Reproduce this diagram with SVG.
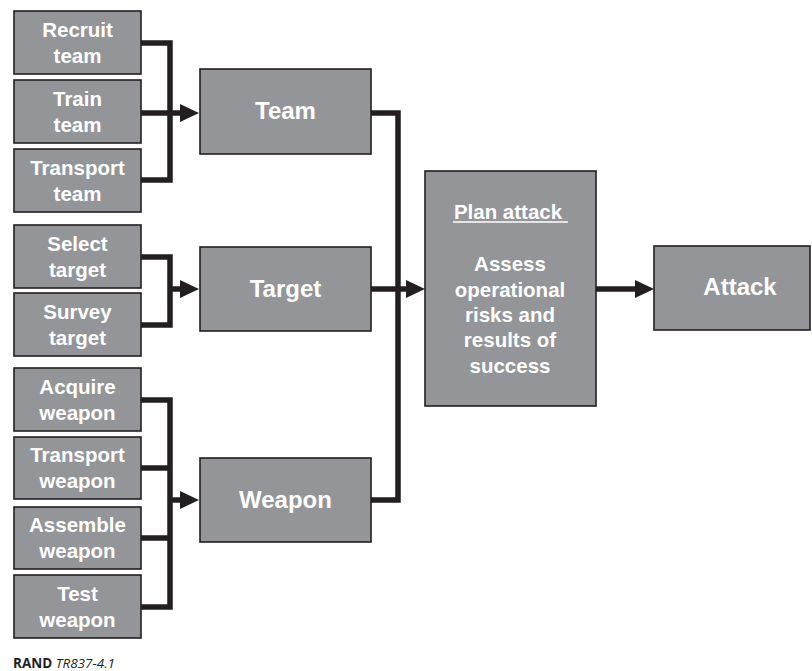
<svg xmlns="http://www.w3.org/2000/svg" width="812" height="671" viewBox="0 0 812 671">
<style>
.box{fill:#939598;stroke:#231f20;stroke-width:1.6}
.t{font-family:"Liberation Sans",Arial,sans-serif;font-weight:bold;fill:#ffffff;text-anchor:middle}
.s{font-size:20.5px}
.b{font-size:24px}
.c{fill:none;stroke:#231f20;stroke-width:5.5;stroke-linejoin:miter}
</style>
<defs>
<marker id="ah" markerUnits="userSpaceOnUse" markerWidth="19" markerHeight="19" refX="0" refY="9" orient="auto" viewBox="0 0 19 18">
<path d="M0,0 L19,9 L0,18 Z" fill="#231f20"/>
</marker>
</defs>
<rect width="812" height="671" fill="#ffffff"/>
<g id="connectors">
<path class="c" d="M141,43 H170 V180 H141"/>
<path class="c" d="M141,113 H180" marker-end="url(#ah)"/>
<path class="c" d="M141,257 H170 V325 H141"/>
<path class="c" d="M170,289 H180" marker-end="url(#ah)"/>
<path class="c" d="M141,400 H170 V607 H141"/>
<path class="c" d="M141,468 H170"/>
<path class="c" d="M141,538 H170"/>
<path class="c" d="M170,500 H180" marker-end="url(#ah)"/>
<path class="c" d="M371,113 H398 V500 H371"/>
<path class="c" d="M371,289 H406" marker-end="url(#ah)"/>
<path class="c" d="M596,289 H635" marker-end="url(#ah)"/>
</g>
<g id="recruit"><rect class="box" x="14" y="11" width="127" height="63"/><text class="t s" x="77.5" y="37">Recruit</text><text class="t s" x="77.5" y="63">team</text></g>
<g id="train"><rect class="box" x="14" y="80" width="127" height="63"/><text class="t s" x="77.5" y="106">Train</text><text class="t s" x="77.5" y="132">team</text></g>
<g id="transport-team"><rect class="box" x="14" y="149" width="127" height="63"/><text class="t s" x="77.5" y="175">Transport</text><text class="t s" x="77.5" y="201">team</text></g>
<g id="select"><rect class="box" x="14" y="225" width="127" height="63"/><text class="t s" x="77.5" y="251">Select</text><text class="t s" x="77.5" y="277">target</text></g>
<g id="survey"><rect class="box" x="14" y="293" width="127" height="63"/><text class="t s" x="77.5" y="319">Survey</text><text class="t s" x="77.5" y="345">target</text></g>
<g id="acquire"><rect class="box" x="14" y="368" width="127" height="63"/><text class="t s" x="77.5" y="394">Acquire</text><text class="t s" x="77.5" y="420">weapon</text></g>
<g id="transport-weapon"><rect class="box" x="14" y="437" width="127" height="62"/><text class="t s" x="77.5" y="462">Transport</text><text class="t s" x="77.5" y="488">weapon</text></g>
<g id="assemble"><rect class="box" x="14" y="507" width="127" height="62"/><text class="t s" x="77.5" y="532">Assemble</text><text class="t s" x="77.5" y="558">weapon</text></g>
<g id="test"><rect class="box" x="14" y="575" width="127" height="63"/><text class="t s" x="77.5" y="601">Test</text><text class="t s" x="77.5" y="627">weapon</text></g>
<g id="team"><rect class="box" x="200" y="69" width="171" height="85"/><text class="t b" x="285.5" y="119">Team</text></g>
<g id="target"><rect class="box" x="200" y="247" width="171" height="84"/><text class="t b" x="285.5" y="297">Target</text></g>
<g id="weapon"><rect class="box" x="200" y="458" width="171" height="84"/><text class="t b" x="285.5" y="508">Weapon</text></g>
<g id="plan"><rect class="box" x="425" y="171" width="171" height="235"/>
<text class="t s" x="508" y="219">Plan attack</text>
<line x1="453" y1="222" x2="568" y2="222" stroke="#ffffff" stroke-width="1.5"/>
<text class="t s" x="510" y="271">Assess</text>
<text class="t s" x="510" y="297">operational</text>
<text class="t s" x="510" y="322">risks and</text>
<text class="t s" x="510" y="347">results of</text>
<text class="t s" x="510" y="373">success</text>
</g>
<g id="attack"><rect class="box" x="654" y="246" width="156" height="84"/><text class="t b" x="740" y="295">Attack</text></g>
<text x="13" y="668" font-family="'Open Sans','Liberation Sans',sans-serif" font-size="13.5" fill="#231f20"><tspan font-weight="bold">RAND</tspan> <tspan font-style="italic">TR837-4.1</tspan></text>
</svg>
